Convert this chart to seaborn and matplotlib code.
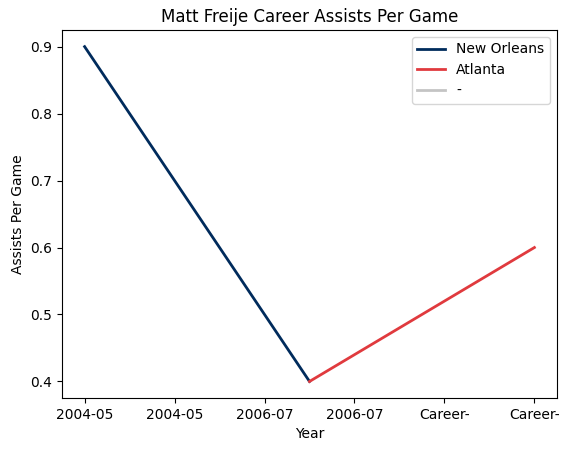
import pandas as pd
import seaborn as sns
import matplotlib.pyplot as plt

seasons = ["2004-05", "2006-07", "Career-"]
teams = ["New Orleans", "Atlanta"]
no_apg = [0.9, 0.4]
atl_apg = [0.4, 0.6]
tick_labels = ["2004-05", "2004-05", "2006-07", "2006-07", "Career-", "Career-"]

df = pd.DataFrame({
    "x": [0, 1, 1, 2],
    "apg": no_apg + atl_apg,
    "team": [teams[0]] * 2 + [teams[1]] * 2,
})

fig, ax = plt.subplots(figsize=(5.7, 4.53), dpi=100)
palette = {"New Orleans": "#002B5C", "Atlanta": "#E03A3E"}
sns.lineplot(data=df, x="x", y="apg", hue="team", palette=palette, linewidth=2, ax=ax)
ax.plot([], [], color="#C4C4C4", linewidth=2, label="-")

ax.set_xticks([0, 0.4, 0.8, 1.2, 1.6, 2.0])
ax.set_xticklabels(tick_labels)
ax.set_xlabel("Year")
ax.set_ylabel("Assists Per Game")
ax.set_title("Matt Freije Career Assists Per Game")
ax.legend(loc="upper right")
fig.subplots_adjust(left=0.109, right=0.977, top=0.934, bottom=0.121)
fig.savefig("out.png")
